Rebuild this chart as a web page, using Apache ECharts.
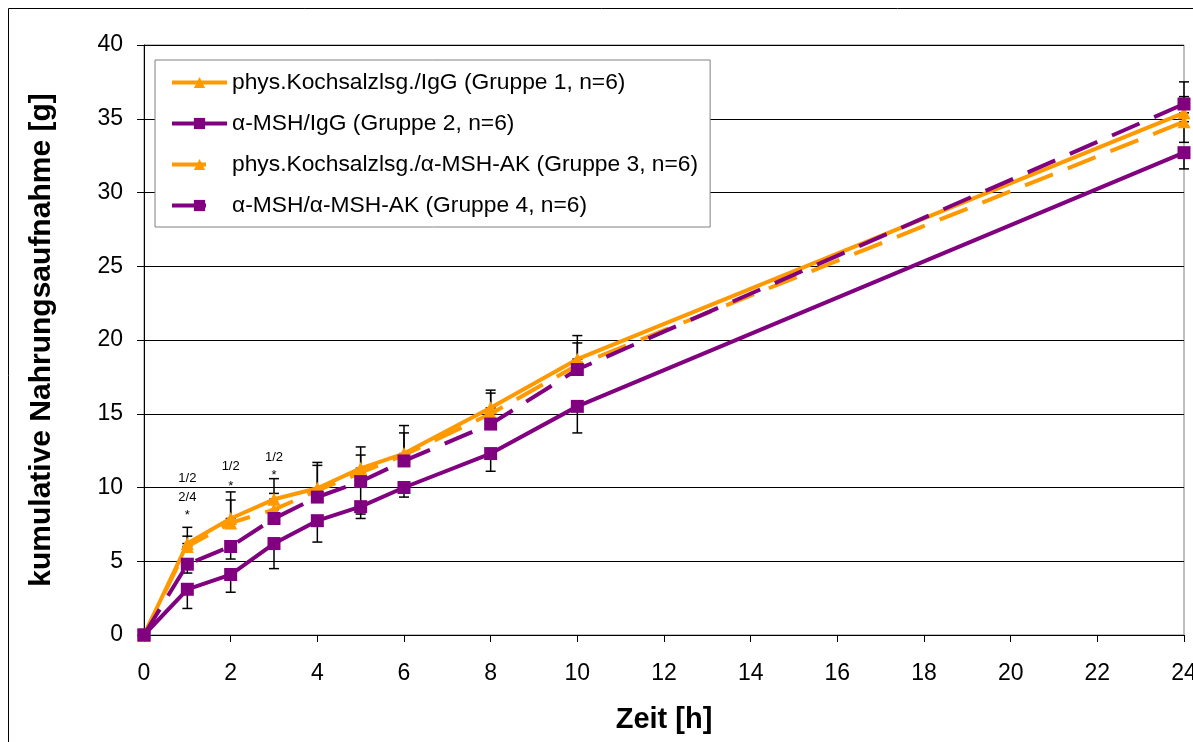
<!DOCTYPE html>
<html>
<head>
<meta charset="utf-8">
<script src="https://cdn.jsdelivr.net/npm/echarts@6/dist/echarts.min.js"></script>
<style>
html,body{margin:0;padding:0;background:#fff;}
#c{width:1193px;height:742px;}
</style>
</head>
<body>
<div id="c"></div>
<script>
// ---- data ----
const hours = [0, 1, 2, 3, 4, 5, 6, 8, 10, 24];
const seriesNames = [
  'phys.Kochsalzlsg./IgG (Gruppe 1, n=6)',
  'α-MSH/IgG (Gruppe 2, n=6)',
  'phys.Kochsalzlsg./α-MSH-AK (Gruppe 3, n=6)',
  'α-MSH/α-MSH-AK (Gruppe 4, n=6)'
];
const g1 = [0, 6.2, 7.9, 9.2, 9.95, 11.3, 12.3, 15.4, 18.7, 35.4];
const g2 = [0, 3.1, 4.1, 6.2, 7.75, 8.7, 10.0, 12.3, 15.5, 32.7];
const g3 = [0, 6.0, 7.6, 8.5, 9.8, 11.0, 12.2, 15.0, 18.3, 34.8];
const g4 = [0, 4.8, 6.0, 7.9, 9.35, 10.4, 11.8, 14.3, 18.0, 36.0];
// error bars (upper for orange groups, lower for purple groups)
const g1Up   = [0, 1.1, 1.8, 1.4, 1.75, 1.45, 1.9, 1.2, 1.6, 2.1];
const g3Up   = [0, 0.7, 1.55, 1.1, 1.7, 1.2, 1.5, 1.4, 1.5, 1.7];
const g2Down = [0, 1.3, 1.2, 1.7, 1.45, 0.8, 0.65, 1.2, 1.8, 1.1];
const g4Down = [0, 0.6, 0.85, 0.3, 0.3, 2.2, 0.3, 0.3, 0.3, 2.6];
// significance annotations
const annoX    = [1, 1, 1, 2, 2, 3, 3];
const annoY    = [10.6, 9.3, 8.1, 11.45, 10.1, 12.05, 10.8];
const annoText = ['1/2', '2/4', '*', '1/2', '*', '1/2', '*'];
const xTicks = {min: 0, max: 24, interval: 2};
const yTicks = {min: 0, max: 40, interval: 5};

const ORANGE = '#FF9900', PURPLE = '#800080';
const FONT = "'Liberation Sans', Arial, sans-serif";
const DASH = [30, 16];

function pairs(ys) { return hours.map((h, i) => [h, ys[i]]); }
function errData(ys, errs, up) {
  return hours.map((h, i) => up ? [h, ys[i], ys[i] + errs[i]] : [h, ys[i] - errs[i], ys[i]]);
}
const errAll = [].concat(
  errData(g1, g1Up, true), errData(g2, g2Down, false),
  errData(g3, g3Up, true), errData(g4, g4Down, false)
).filter(d => d[2] - d[1] > 0);

function errRender(params, api) {
  const x = api.value(0);
  const p1 = api.coord([x, api.value(1)]);
  const p2 = api.coord([x, api.value(2)]);
  const w = 5;
  const st = {stroke: '#000', lineWidth: 1.5};
  return {type: 'group', children: [
    {type: 'line', shape: {x1: p1[0], y1: p1[1], x2: p2[0], y2: p2[1]}, style: st},
    {type: 'line', shape: {x1: p1[0] - w, y1: p1[1], x2: p1[0] + w, y2: p1[1]}, style: st},
    {type: 'line', shape: {x1: p2[0] - w, y1: p2[1], x2: p2[0] + w, y2: p2[1]}, style: st}
  ]};
}
const annoData = annoX.map((x, i) => [x, annoY[i], annoText[i]]);
function annoRender(params, api) {
  const p = api.coord([api.value(0), api.value(1)]);
  return {type: 'text', x: p[0], y: p[1], style: {
    text: annoData[params.dataIndex][2], align: 'center', verticalAlign: 'middle',
    fontSize: 13, fontFamily: FONT, fill: '#000'}};
}

function lineSeries(name, ys, color, symbol, size, dashed, z) {
  return {
    name: name, type: 'line', data: pairs(ys), z: z,
    symbol: symbol, symbolSize: size, showSymbol: true,
    itemStyle: {color: color, borderWidth: 0},
    lineStyle: {color: color, width: 4, type: dashed ? DASH : 'solid'},
    emphasis: {disabled: true}, animation: false
  };
}

const chart = echarts.init(document.getElementById('c'), null, {renderer: 'canvas'});
chart.setOption({
  animation: false,
  backgroundColor: '#fff',
  textStyle: {fontFamily: FONT},
  graphic: [{type: 'rect', shape: {x: 8.5, y: 8.5, width: 1300, height: 900},
    style: {fill: 'none', stroke: '#000', lineWidth: 1}, z: -10, silent: true}],
  grid: {left: 144, right: 9, top: 45, bottom: 107, show: true, outerBoundsMode: 'none',
    containLabel: false,
    borderColor: '#808080', borderWidth: 1, backgroundColor: '#fff'},
  legend: {
    orient: 'vertical', left: 155, top: 60,
    padding: [11, 12, 10, 15], itemGap: 18, itemWidth: 55, itemHeight: 14,
    backgroundColor: '#fff', borderColor: '#808080', borderWidth: 1,
    lineStyle: {width: 4},
    textStyle: {fontSize: 22.8, color: '#000', fontFamily: FONT},
    data: [
      {name: seriesNames[0]},
      {name: seriesNames[1]},
      {name: seriesNames[2], lineStyle: {width: 4, type: [34, 60]}},
      {name: seriesNames[3], lineStyle: {width: 4, type: [34, 60]}}
    ]
  },
  xAxis: {
    type: 'value', min: xTicks.min, max: xTicks.max, interval: xTicks.interval,
    name: 'Zeit [h]', nameLocation: 'middle', nameGap: 70,
    nameTextStyle: {fontSize: 29, fontWeight: 'bold', color: '#000', fontFamily: FONT},
    axisLine: {show: true, lineStyle: {color: '#000', width: 1}},
    axisTick: {show: true, length: 7, lineStyle: {color: '#000'}},
    axisLabel: {fontSize: 23, color: '#000', margin: 27, fontFamily: FONT},
    splitLine: {show: false}
  },
  yAxis: {
    type: 'value', min: yTicks.min, max: yTicks.max, interval: yTicks.interval,
    name: 'kumulative Nahrungsaufnahme [g]', nameLocation: 'middle', nameGap: 87,
    nameTextStyle: {fontSize: 30, fontWeight: 'bold', color: '#000', fontFamily: FONT},
    axisLine: {show: true, lineStyle: {color: '#000', width: 1}},
    axisTick: {show: true, length: 7, lineStyle: {color: '#000'}},
    axisLabel: {fontSize: 23, color: '#000', margin: 21, fontFamily: FONT},
    splitLine: {show: true, lineStyle: {color: '#000', width: 1}}
  },
  series: [
    {type: 'custom', name: 'err', data: errAll, renderItem: errRender, z: 1,
     encode: {x: 0, y: [1, 2]}, silent: true, animation: false},
    lineSeries(seriesNames[0], g1, ORANGE, 'triangle', 13, false, 2),
    lineSeries(seriesNames[1], g2, PURPLE, 'rect', 13, false, 3),
    lineSeries(seriesNames[2], g3, ORANGE, 'triangle', 13, true, 4),
    lineSeries(seriesNames[3], g4, PURPLE, 'rect', 13, true, 5),
    {type: 'custom', name: 'anno', data: annoData.map(d => [d[0], d[1]]), renderItem: annoRender,
     z: 6, encode: {x: 0, y: 1}, silent: true, animation: false}
  ]
});
</script>
</body>
</html>
